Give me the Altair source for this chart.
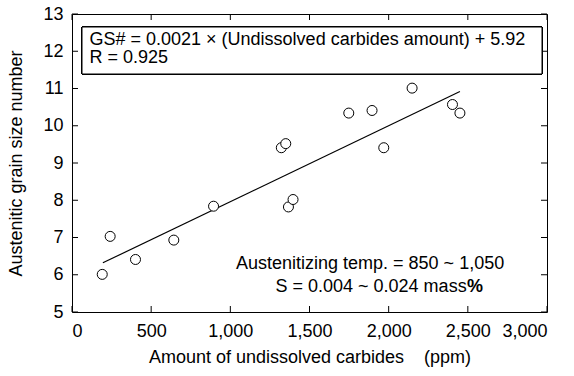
import altair as alt
import pandas as pd

# ---- data ----
carbides = [191, 241, 401, 643, 894, 1322, 1350, 1367, 1396, 1748, 1895, 1969, 2148, 2403, 2450]
grain = [6.01, 7.03, 6.41, 6.93, 7.84, 9.41, 9.52, 7.82, 8.02, 10.34, 10.41, 9.41, 11.01, 10.57, 10.34]
fit_x = [195, 2450]
fit_y = [6.32, 10.92]
x_ticks = [0, 500, 1000, 1500, 2000, 2500, 3000]
y_ticks = [5, 6, 7, 8, 9, 10, 11, 12, 13]

eq_text = "GS# = 0.0021 \u00d7 (Undissolved carbides amount) + 5.92"
r_text = "R = 0.925"
cond1 = "Austenitizing temp. = 850 ~ 1,050"
cond2 = "S = 0.004 ~ 0.024 mass"
cond2_pct = "%"
x_title = "Amount of undissolved carbides\u00a0\u00a0\u00a0\u00a0(ppm)"
y_title = "Austenitic grain size number"

pts = pd.DataFrame({"x": carbides, "y": grain})
fit = pd.DataFrame({"x": fit_x, "y": fit_y})
xt = pd.DataFrame({"x": x_ticks})
yt = pd.DataFrame({"y": y_ticks})

W, H = 475, 298
FONT = "Liberation Sans"
FS = 18
TICK = 6

xs = alt.Scale(domain=[0, 3000], nice=False, zero=False)
ys = alt.Scale(domain=[5, 13], nice=False, zero=False)

ax_x_main = alt.Axis(orient="bottom", values=x_ticks, format=",.0f", tickSize=0, ticks=False, domain=False,
                     grid=False, labelPadding=10, titlePadding=8, title=x_title)
ax_y_main = alt.Axis(orient="left", values=y_ticks, format=".0f", tickSize=0, ticks=False, domain=False,
                     grid=False, labelPadding=9, titlePadding=17, title=y_title)

X = alt.X("x:Q", scale=xs, axis=ax_x_main)
Y = alt.Y("y:Q", scale=ys, axis=ax_y_main)

line = alt.Chart(fit).mark_line(color="black", strokeWidth=1.2).encode(x=X, y=Y)

# inward tick marks on all four sides
tick_style = dict(color="black", strokeWidth=1)
xt_bottom = alt.Chart(xt).mark_rule(**tick_style).encode(x=X, y=alt.value(H), y2=alt.value(H - TICK))
xt_top = alt.Chart(xt).mark_rule(**tick_style).encode(x=X, y=alt.value(0), y2=alt.value(TICK))
yt_left = alt.Chart(yt).mark_rule(**tick_style).encode(y=Y, x=alt.value(0), x2=alt.value(TICK))
yt_right = alt.Chart(yt).mark_rule(**tick_style).encode(y=Y, x=alt.value(W), x2=alt.value(W - TICK))

points = alt.Chart(pts).mark_point(shape="circle", filled=True, fill="white", stroke="black",
                                   strokeWidth=1, size=100, opacity=1).encode(x=X, y=Y)

box = alt.Chart(pts).mark_rect(fill="white", stroke="black", strokeWidth=1).encode(
    x=alt.value(10), x2=alt.value(470), y=alt.value(13), y2=alt.value(60)
)

def txt(s, x, y, weight="normal"):
    return alt.Chart(pd.DataFrame({"t": [s]})).mark_text(
        font=FONT, fontSize=FS, fontWeight=weight, align="left", baseline="alphabetic", color="black"
    ).encode(text="t:N", x=alt.value(x), y=alt.value(y))

chart = alt.layer(
    line, xt_bottom, xt_top, yt_left, yt_right, points, box,
    txt(eq_text, 17.5, 30.5), txt(r_text, 17.5, 49),
    txt(cond1, 164, 255), txt(cond2, 203.5, 278), txt(cond2_pct, 395, 278, "bold"),
).properties(
    width=W, height=H,
    background="white",
    autosize=alt.AutoSizeParams(type="none"),
    padding={"left": 72, "top": 14, "right": 27, "bottom": 64},
).configure_view(stroke="black", strokeWidth=1).configure_axis(
    labelFont=FONT, titleFont=FONT, labelFontSize=FS, titleFontSize=FS,
    labelColor="black", titleColor="black", tickColor="black", titleFontWeight="normal",
)

chart.save("out.html", embed_options={"renderer": "svg", "actions": False})
